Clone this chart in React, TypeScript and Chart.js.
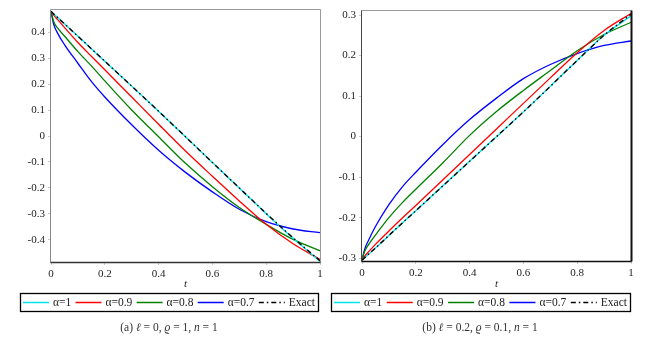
import React, { useEffect, useRef } from "react";
import { Chart, registerables } from "chart.js";

Chart.register(...registerables);

// ---- data ----
const T = [0, 0.01, 0.025, 0.05, 0.1, 0.15, 0.2, 0.3, 0.4, 0.5, 0.6, 0.7, 0.8, 0.9, 1];

const leftAlpha1 = [0.48, 0.47, 0.456, 0.432, 0.384, 0.336, 0.288, 0.192, 0.095, -0.003, -0.102, -0.2, -0.299, -0.394, -0.483];
const leftAlpha09 = [0.48, 0.465, 0.448, 0.418, 0.36, 0.307, 0.255, 0.15, 0.045, -0.058, -0.155, -0.25, -0.34, -0.415, -0.475];
const leftAlpha08 = [0.48, 0.44, 0.415, 0.385, 0.325, 0.27, 0.212, 0.1, -0.003, -0.105, -0.195, -0.275, -0.34, -0.398, -0.442];
const leftAlpha07 = [0.48, 0.43, 0.395, 0.352, 0.28, 0.21, 0.15, 0.043, -0.055, -0.14, -0.215, -0.282, -0.33, -0.358, -0.372];
const leftExact = [0.48, 0.47, 0.456, 0.432, 0.384, 0.336, 0.288, 0.192, 0.095, -0.003, -0.102, -0.2, -0.298, -0.392, -0.48];

const rightAlpha1 = [-0.305, -0.299, -0.29, -0.275, -0.244, -0.213, -0.183, -0.122, -0.061, 0.0, 0.061, 0.124, 0.188, 0.25, 0.298];
const rightAlpha09 = [-0.305, -0.295, -0.284, -0.266, -0.233, -0.201, -0.17, -0.107, -0.044, 0.019, 0.082, 0.145, 0.207, 0.262, 0.304];
const rightAlpha08 = [-0.305, -0.283, -0.266, -0.243, -0.2, -0.163, -0.13, -0.065, 0.003, 0.062, 0.114, 0.163, 0.212, 0.252, 0.282];
const rightAlpha07 = [-0.305, -0.278, -0.255, -0.222, -0.168, -0.124, -0.088, -0.02, 0.042, 0.095, 0.143, 0.178, 0.205, 0.225, 0.236];
const rightExact = [-0.305, -0.299, -0.29, -0.275, -0.244, -0.213, -0.183, -0.122, -0.061, 0.0, 0.061, 0.124, 0.188, 0.25, 0.302];

const xTicks = [0, 0.2, 0.4, 0.6, 0.8, 1];
const leftYTicks = [-0.4, -0.3, -0.2, -0.1, 0, 0.1, 0.2, 0.3, 0.4];
const rightYTicks = [-0.3, -0.2, -0.1, 0, 0.1, 0.2, 0.3];

const seriesLabels = ["α=1", "α=0.9", "α=0.8", "α=0.7", "Exact"];
const seriesColors = ["#00e5ee", "#ff0000", "#008000", "#0000ff", "#000000"];
const xTitle = "t";

type Seg = { text: string; italic?: boolean };
const captionA: Seg[] = [
  { text: "(a) " }, { text: "ℓ", italic: true }, { text: " = 0, " },
  { text: "ϱ", italic: true }, { text: " = 1, " }, { text: "n", italic: true }, { text: " = 1" },
];
const captionB: Seg[] = [
  { text: "(b) " }, { text: "ℓ", italic: true }, { text: " = 0.2, " },
  { text: "ϱ", italic: true }, { text: " = 0.1, " }, { text: "n", italic: true }, { text: " = 1" },
];

const SERIF = '"Liberation Serif", "Times New Roman", Times, serif';
const EXACT_DASH = [5, 3, 1.5, 3];

type PanelSpec = {
  series: number[][];
  yTicks: number[];
  yMin: number;
  yMax: number;
  yWidth: number;
  padRight: number;
  padTop: number;
  padBottom: number;
  legendLeft: number;
  legendRight: number;
  captionX: number;
  caption: Seg[];
  borders: { left: string; top: string; right: string; bottom: string; rightW: number; bottomW: number };
};

const fmt = (v: number) => {
  const r = Math.round(v * 100) / 100;
  return String(r);
};

function decorPlugin(spec: PanelSpec) {
  return {
    id: "decor",
    afterDatasetsDraw(chart: any) {
      const ctx: CanvasRenderingContext2D = chart.ctx;
      const a = chart.chartArea;
      ctx.save();
      const L = Math.round(a.left) - 0.5;
      const R = Math.round(a.right) + 0.5;
      const Tp = Math.round(a.top) - 0.5;
      const B = Math.round(a.bottom) + 0.5;
      ctx.lineWidth = 1;
      ctx.strokeStyle = spec.borders.top;
      ctx.beginPath(); ctx.moveTo(L, Tp); ctx.lineTo(R, Tp); ctx.stroke();
      ctx.strokeStyle = spec.borders.left;
      ctx.beginPath(); ctx.moveTo(L, Tp); ctx.lineTo(L, B); ctx.stroke();
      ctx.lineWidth = spec.borders.rightW;
      ctx.strokeStyle = spec.borders.right;
      ctx.beginPath(); ctx.moveTo(R, Tp); ctx.lineTo(R, B); ctx.stroke();
      ctx.lineWidth = spec.borders.bottomW;
      ctx.strokeStyle = spec.borders.bottom;
      ctx.beginPath(); ctx.moveTo(L, B); ctx.lineTo(R, B); ctx.stroke();

      // x title
      ctx.fillStyle = "#222";
      ctx.font = `italic 11px ${SERIF}`;
      ctx.textAlign = "center";
      ctx.textBaseline = "middle";
      ctx.fillText(xTitle, (a.left + a.right) / 2, 284);

      // legend
      const lt = 293, lb = 311, mid = 302.5;
      ctx.lineWidth = 1.3;
      ctx.strokeStyle = "#000";
      ctx.setLineDash([]);
      ctx.strokeRect(spec.legendLeft + 0.5, lt + 0.5, spec.legendRight - spec.legendLeft, lb - lt);
      ctx.font = `11.5px ${SERIF}`;
      ctx.textAlign = "left";
      ctx.textBaseline = "middle";
      const widths = seriesLabels.map((s) => ctx.measureText(s).width);
      const lineLen = 26;
      const total = seriesLabels.length * lineLen + widths.reduce((p, c) => p + c, 0) + seriesLabels.length * 4;
      const inner = spec.legendRight - spec.legendLeft - 6;
      const gap = (inner - total) / (seriesLabels.length - 1);
      let x = spec.legendLeft + 3;
      seriesLabels.forEach((lab, i) => {
        ctx.strokeStyle = seriesColors[i];
        ctx.lineWidth = 1.5;
        ctx.setLineDash(i === 4 ? EXACT_DASH : []);
        ctx.beginPath(); ctx.moveTo(x, mid); ctx.lineTo(x + lineLen, mid); ctx.stroke();
        ctx.setLineDash([]);
        x += lineLen + 4;
        ctx.fillStyle = "#222";
        ctx.fillText(lab, x, mid + 0.5);
        x += widths[i] + gap;
      });

      // caption
      const segW = spec.caption.map((s) => {
        ctx.font = `${s.italic ? "italic " : ""}11.5px ${SERIF}`;
        return ctx.measureText(s.text).width;
      });
      const capW = segW.reduce((p, c) => p + c, 0);
      let cx = spec.captionX - capW / 2;
      spec.caption.forEach((s, i) => {
        ctx.font = `${s.italic ? "italic " : ""}11.5px ${SERIF}`;
        ctx.fillStyle = "#333";
        ctx.fillText(s.text, cx, 328);
        cx += segW[i];
      });
      ctx.restore();
    },
  };
}

function makeConfig(spec: PanelSpec): any {
  const orders = [1, 2, 3, 4, 0];
  return {
    type: "line",
    data: {
      datasets: spec.series.map((vals, i) => ({
        label: seriesLabels[i],
        data: T.map((t, k) => ({ x: t, y: vals[k] })),
        borderColor: seriesColors[i],
        borderWidth: i === 4 ? 1.4 : 1.3,
        borderDash: i === 4 ? EXACT_DASH : [],
        pointRadius: 0,
        fill: false,
        cubicInterpolationMode: "monotone",
        order: orders[i],
      })),
    },
    options: {
      animation: false,
      responsive: false,
      devicePixelRatio: 1,
      layout: { padding: { left: 0, right: spec.padRight, top: spec.padTop, bottom: spec.padBottom } },
      plugins: { legend: { display: false }, tooltip: { enabled: false }, title: { display: false } },
      scales: {
        x: {
          type: "linear",
          min: 0,
          max: 1,
          afterBuildTicks: (s: any) => { s.ticks = xTicks.map((v) => ({ value: v })); },
          afterFit: (s: any) => { s.height = 30; s.paddingLeft = 0; s.paddingRight = 0; },
          grid: { display: true, drawOnChartArea: false, drawTicks: true, tickLength: 3, color: "#c8c8c8" },
          border: { display: false },
          ticks: {
            padding: 3, autoSkip: false, maxRotation: 0, color: "#222",
            font: { family: SERIF, size: 11 },
            callback: (v: any) => fmt(Number(v)),
          },
        },
        y: {
          type: "linear",
          min: spec.yMin,
          max: spec.yMax,
          afterBuildTicks: (s: any) => { s.ticks = spec.yTicks.map((v) => ({ value: v })); },
          afterFit: (s: any) => { s.width = spec.yWidth; s.paddingTop = 0; s.paddingBottom = 0; },
          grid: { display: true, drawOnChartArea: false, drawTicks: true, tickLength: 3, color: "#c8c8c8" },
          border: { display: false },
          ticks: {
            padding: 3, autoSkip: false, color: "#222",
            font: { family: SERIF, size: 11 },
            callback: (v: any) => fmt(Number(v)),
          },
        },
      },
    },
    plugins: [decorPlugin(spec)],
  };
}

const leftSpec: PanelSpec = {
  series: [leftAlpha1, leftAlpha09, leftAlpha08, leftAlpha07, leftExact],
  yTicks: leftYTicks,
  yMin: -0.485,
  yMax: 0.485,
  yWidth: 51,
  padRight: 5,
  padTop: 10,
  padBottom: 48,
  legendLeft: 20,
  legendRight: 318,
  captionX: 169,
  caption: captionA,
  borders: { left: "#888", top: "#999", right: "#999", bottom: "#333", rightW: 1, bottomW: 1.5 },
};

const rightSpec: PanelSpec = {
  series: [rightAlpha1, rightAlpha09, rightAlpha08, rightAlpha07, rightExact],
  yTicks: rightYTicks,
  yMin: -0.307,
  yMax: 0.31,
  yWidth: 37,
  padRight: 19,
  padTop: 11,
  padBottom: 49,
  legendLeft: 6,
  legendRight: 305,
  captionX: 155,
  caption: captionB,
  borders: { left: "#444", top: "#999", right: "#111", bottom: "#111", rightW: 2, bottomW: 1.5 },
};

function Panel({ spec }: { spec: PanelSpec }) {
  const ref = useRef<HTMLCanvasElement | null>(null);
  useEffect(() => {
    if (!ref.current) return;
    const chart = new Chart(ref.current, makeConfig(spec));
    return () => chart.destroy();
  }, [spec]);
  return <canvas ref={ref} width={325} height={340} style={{ width: 325, height: 340, display: "block" }} />;
}

export default function App() {
  return (
    <div style={{ position: "absolute", left: 0, top: 0, width: 650, height: 340, display: "flex", background: "#fff" }}>
      <Panel spec={leftSpec} />
      <Panel spec={rightSpec} />
    </div>
  );
}
